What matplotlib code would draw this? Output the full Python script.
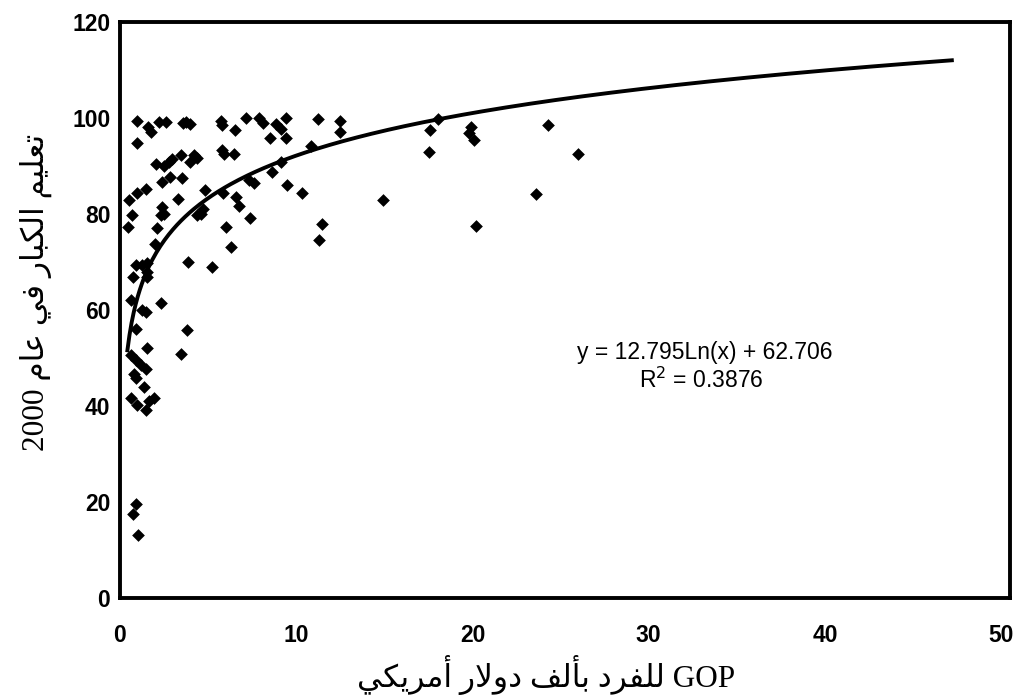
import numpy as np
import matplotlib
matplotlib.use("Agg")
import matplotlib.pyplot as plt

# ---------------- data ----------------
gdp = [0.98, 1.6, 1.74, 2.23, 2.6, 3.58, 3.77, 4.0, 5.72, 5.81, 6.53, 7.14,
       0.98, 2.03, 2.5, 2.78, 2.97, 3.48, 4.2, 4.39, 4.0, 5.81, 5.9, 6.48,
       2.37, 2.84, 3.5, 1.46, 0.98, 0.51, 0.7, 0.45, 2.4, 2.5, 2.31, 3.3, 4.83, 5.87, 6.57, 6.76,
       7.33, 7.6, 4.72, 4.58, 4.39, 7.39, 2.08, 6.04, 1.99, 6.32,
       3.86, 5.21, 0.89, 1.27, 1.55, 1.55, 1.55, 0.74, 0.61, 2.31, 1.27, 1.46, 0.89, 3.79,
       1.55, 3.48, 0.61, 0.89, 1.18, 1.46, 0.8, 0.89, 1.36, 0.61, 1.93, 1.65, 0.98, 1.46,
       0.89, 0.74, 1.04,
       7.9, 8.09, 8.85, 9.13, 9.41, 8.5, 9.41, 11.25, 12.5, 12.5, 10.85, 9.13, 8.62, 9.5,
       10.3, 11.44, 11.27, 14.94, 18.07, 17.59, 17.53, 19.92, 19.83, 20.11, 20.19, 24.3, 26.0, 23.6]
literacy = [99.4, 98.2, 97.1, 99.2, 99.2, 98.9, 99.2, 98.75, 99.4, 98.5, 97.4, 99.9,
            94.7, 90.4, 90.0, 90.9, 91.4, 92.3, 92.3, 91.6, 90.9, 93.3, 92.4, 92.6,
            86.7, 87.8, 87.6, 85.3, 84.3, 82.9, 79.8, 77.2, 81.5, 80.1, 79.8, 83.1, 85.1, 84.4, 83.5, 81.7,
            87.1, 86.4, 81.0, 80.1, 79.8, 79.1, 77.0, 77.2, 73.75, 73.2,
            69.9, 69.0, 69.4, 69.4, 69.7, 68.0, 66.9, 66.9, 62.1, 61.5, 60.1, 59.5, 56.0, 55.8,
            52.0, 50.8, 50.6, 49.6, 48.5, 47.8, 46.7, 45.8, 44.0, 41.7, 41.7, 41.1, 40.2, 39.2,
            19.6, 17.4, 13.1,
            99.9, 98.9, 98.75, 97.8, 99.9, 95.9, 95.8, 99.8, 99.4, 97.0, 94.2, 90.8, 88.8, 86.0,
            84.3, 77.9, 74.6, 82.9, 99.8, 97.4, 93.0, 98.1, 96.8, 95.4, 77.4, 98.5, 92.5, 84.2]

trend_a = 12.795
trend_b = 62.706
trend_x_range = (0.42, 47.2)
eq_text = "y = 12.795Ln(x) + 62.706"
r2_text = "R$^2$ = 0.3876"

x_ticks = [0, 10, 20, 30, 40, 50]
y_ticks = [0, 20, 40, 60, 80, 100, 120]
xlabel_ar = "للفرد بألف دولار أمريكي"
xlabel_latin = "GOP"
ylabel_ar = "تعليم الكبار في عام"
ylabel_num = "2000"

# ---------------- minimal Arabic shaping (presentation forms, visual order) ----------------
FORMS = {  # iso, fin, ini, med
    'ا': (0xFE8D, 0xFE8E, None, None), 'أ': (0xFE83, 0xFE84, None, None),
    'إ': (0xFE87, 0xFE88, None, None), 'آ': (0xFE81, 0xFE82, None, None),
    'ب': (0xFE8F, 0xFE90, 0xFE91, 0xFE92), 'ت': (0xFE95, 0xFE96, 0xFE97, 0xFE98),
    'ث': (0xFE99, 0xFE9A, 0xFE9B, 0xFE9C), 'ج': (0xFE9D, 0xFE9E, 0xFE9F, 0xFEA0),
    'ح': (0xFEA1, 0xFEA2, 0xFEA3, 0xFEA4), 'خ': (0xFEA5, 0xFEA6, 0xFEA7, 0xFEA8),
    'د': (0xFEA9, 0xFEAA, None, None), 'ذ': (0xFEAB, 0xFEAC, None, None),
    'ر': (0xFEAD, 0xFEAE, None, None), 'ز': (0xFEAF, 0xFEB0, None, None),
    'س': (0xFEB1, 0xFEB2, 0xFEB3, 0xFEB4), 'ش': (0xFEB5, 0xFEB6, 0xFEB7, 0xFEB8),
    'ص': (0xFEB9, 0xFEBA, 0xFEBB, 0xFEBC), 'ض': (0xFEBD, 0xFEBE, 0xFEBF, 0xFEC0),
    'ط': (0xFEC1, 0xFEC2, 0xFEC3, 0xFEC4), 'ظ': (0xFEC5, 0xFEC6, 0xFEC7, 0xFEC8),
    'ع': (0xFEC9, 0xFECA, 0xFECB, 0xFECC), 'غ': (0xFECD, 0xFECE, 0xFECF, 0xFED0),
    'ف': (0xFED1, 0xFED2, 0xFED3, 0xFED4), 'ق': (0xFED5, 0xFED6, 0xFED7, 0xFED8),
    'ك': (0xFED9, 0xFEDA, 0xFEDB, 0xFEDC), 'ل': (0xFEDD, 0xFEDE, 0xFEDF, 0xFEE0),
    'م': (0xFEE1, 0xFEE2, 0xFEE3, 0xFEE4), 'ن': (0xFEE5, 0xFEE6, 0xFEE7, 0xFEE8),
    'ه': (0xFEE9, 0xFEEA, 0xFEEB, 0xFEEC), 'و': (0xFEED, 0xFEEE, None, None),
    'ى': (0xFEEF, 0xFEF0, None, None), 'ي': (0xFEF1, 0xFEF2, 0xFEF3, 0xFEF4),
    'ة': (0xFE93, 0xFE94, None, None),
}
LAMALEF = {'ا': (0xFEFB, 0xFEFC), 'أ': (0xFEF7, 0xFEF8),
           'إ': (0xFEF9, 0xFEFA), 'آ': (0xFEF5, 0xFEF6)}


def shape_arabic(text):
    units = []
    i = 0
    while i < len(text):
        c = text[i]
        if c == 'ل' and i + 1 < len(text) and text[i + 1] in LAMALEF:
            units.append(('LA', text[i + 1]))
            i += 2
        else:
            units.append(('C', c))
            i += 1

    def is_ar(u):
        return u[0] == 'LA' or u[1] in FORMS

    def joins_left(u):
        return u[0] == 'C' and u[1] in FORMS and FORMS[u[1]][2] is not None

    out = []
    for k, u in enumerate(units):
        if not is_ar(u):
            out.append(u[1])
            continue
        prev = units[k - 1] if k > 0 else None
        nxt = units[k + 1] if k + 1 < len(units) else None
        jp = prev is not None and joins_left(prev)
        if u[0] == 'LA':
            out.append(chr(LAMALEF[u[1]][1 if jp else 0]))
            continue
        jn = joins_left(u) and nxt is not None and is_ar(nxt)
        iso, fin, ini, med = FORMS[u[1]]
        if jp and jn:
            out.append(chr(med))
        elif jp:
            out.append(chr(fin))
        elif jn:
            out.append(chr(ini))
        else:
            out.append(chr(iso))
    return ''.join(out)[::-1]


# ---------------- figure ----------------
plt.rcParams['font.family'] = ['Liberation Sans', 'DejaVu Sans']
fig = plt.figure(figsize=(10.2, 6.97), dpi=100)
ax = fig.add_axes([120 / 1020, 1 - 598 / 697, 890 / 1020, 576 / 697])

ax.scatter(gdp, literacy, marker='D', s=42, color='black', linewidths=0, zorder=3)

xs = np.linspace(trend_x_range[0], trend_x_range[1], 400)
ax.plot(xs, trend_a * np.log(xs) + trend_b, color='black', linewidth=2.8, zorder=4)

ax.set_xlim(0, 50.5)
ax.set_ylim(0, 120)
ax.set_xticks(x_ticks)
ax.set_yticks(y_ticks)
ax.tick_params(length=0, labelsize=16.5)
ax.tick_params(axis='x', pad=19)
ax.tick_params(axis='y', pad=7)
for lab in ax.get_xticklabels() + ax.get_yticklabels():
    lab.set_fontweight('bold')
    lab.set_family('Liberation Sans')

for sp in ax.spines.values():
    sp.set_linewidth(2.8)
    sp.set_color('black')

ax.text(33.2, 51.2, eq_text, ha='center', va='center', fontsize=16.5,
        family='Liberation Sans')
ax.text(33.0, 45.4, r2_text, ha='center', va='center', fontsize=16.5,
        family='Liberation Sans')

fig.text(546 / 1020, 1 - 675 / 697, shape_arabic(xlabel_ar) + " " + xlabel_latin,
         ha='center', va='center', fontsize=22.5,
         family=['Liberation Serif', 'DejaVu Sans'])
fig.text(36 / 1020, 1 - 292 / 697, ylabel_num + " " + shape_arabic(ylabel_ar),
         ha='center', va='center', rotation=90, fontsize=22.5,
         family=['Liberation Serif', 'DejaVu Sans'])

fig.savefig("out.png", dpi=100, facecolor='white')
